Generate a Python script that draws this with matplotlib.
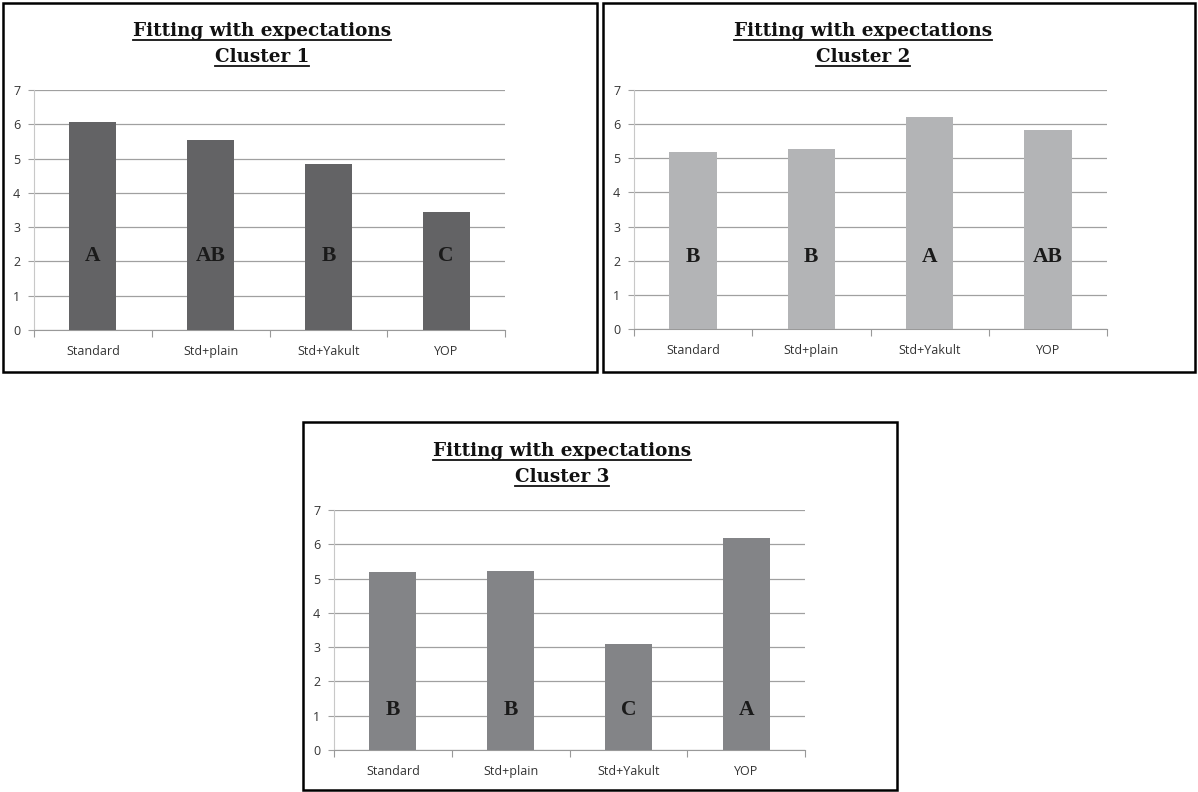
import matplotlib
matplotlib.use("Agg")
import matplotlib.pyplot as plt
from matplotlib.lines import Line2D
from matplotlib.patches import Rectangle

categories = ["Standard", "Std+plain", "Std+Yakult", "YOP"]
cluster1 = [6.06, 5.53, 4.84, 3.43]
cluster2 = [5.17, 5.28, 6.21, 5.84]
cluster3 = [5.20, 5.22, 3.10, 6.19]
letters1 = ["A", "AB", "B", "C"]
letters2 = ["B", "B", "A", "AB"]
letters3 = ["B", "B", "C", "A"]
titles = ["Cluster 1", "Cluster 2", "Cluster 3"]
yticks = [0, 1, 2, 3, 4, 5, 6, 7]

W, H = 1198, 792
fig = plt.figure(figsize=(W / 100, H / 100), dpi=100)
fig.patch.set_facecolor("white")

def px_rect(x0, y0, x1, y1):
    return [x0 / W, 1 - y1 / H, (x1 - x0) / W, (y1 - y0) / H]

panels = [
    dict(vals=cluster1, letters=letters1, color="#636365", letter_y=2.15,
         border=(3, 3, 597, 372), axes=(34, 90, 505, 330), title_x=262, title_y=(31, 57), title=titles[0]),
    dict(vals=cluster2, letters=letters2, color="#b3b4b6", letter_y=2.1,
         border=(603, 3, 1195, 372), axes=(634, 90, 1107, 329), title_x=863, title_y=(31, 57), title=titles[1]),
    dict(vals=cluster3, letters=letters3, color="#838487", letter_y=1.17,
         border=(303, 422, 897, 790), axes=(334, 510, 805, 750), title_x=562, title_y=(451, 477), title=titles[2]),
]

title_texts = []
for p in panels:
    bx0, by0, bx1, by1 = p["border"]
    fig.add_artist(Rectangle((bx0 / W, 1 - by1 / H), (bx1 - bx0) / W, (by1 - by0) / H,
                             transform=fig.transFigure, fill=False, edgecolor="black", linewidth=1.8))
    ax = fig.add_axes(px_rect(*p["axes"]))
    x = list(range(len(categories)))
    ax.bar(x, p["vals"], width=0.4, color=p["color"], zorder=3)
    for xi, lab in zip(x, p["letters"]):
        ax.text(xi, p["letter_y"], lab, ha="center", va="center", fontsize=15.5, fontweight="bold",
                family="Liberation Serif", color="#1a1a1a", zorder=4)
    ax.set_xlim(-0.5, 3.5)
    ax.set_ylim(0, 7)
    ax.set_yticks(yticks)
    ax.set_yticklabels([str(t) for t in yticks], fontsize=9, family="Open Sans", color="#333333")
    ax.yaxis.grid(True, color="#a0a0a0", linewidth=0.9, zorder=0)
    ax.set_axisbelow(True)
    ax.tick_params(axis="y", length=4, color="#a0a0a0", pad=6)
    ax.set_xticks([-0.5, 0.5, 1.5, 2.5, 3.5], minor=False)
    ax.set_xticklabels([])
    ax.set_xticks(x, minor=True)
    ax.set_xticklabels(categories, minor=True, fontsize=9, family="Open Sans", color="#333333")
    ax.tick_params(axis="x", which="major", length=5, color="#999999", direction="out")
    ax.tick_params(axis="x", which="minor", length=0, pad=11)
    for s in ["top", "right"]:
        ax.spines[s].set_visible(False)
    ax.spines["left"].set_color("#c8c8c8")
    ax.spines["bottom"].set_color("#999999")
    ax.set_facecolor("none")

    for txt, ty in zip(["Fitting with expectations", p["title"]], p["title_y"]):
        t = fig.text(p["title_x"] / W, 1 - ty / H, txt, ha="center", va="center",
                     fontsize=13.2, fontweight="bold", family="DejaVu Serif", color="#111111")
        title_texts.append(t)

fig.canvas.draw()
r = fig.canvas.get_renderer()
for t in title_texts:
    bb = t.get_window_extent(renderer=r)
    y = bb.y0 + 0.5
    fig.add_artist(Line2D([bb.x0 / W, bb.x1 / W], [y / H, y / H], transform=fig.transFigure,
                          color="#111111", linewidth=1.3))

fig.savefig("out.png", dpi=100)
